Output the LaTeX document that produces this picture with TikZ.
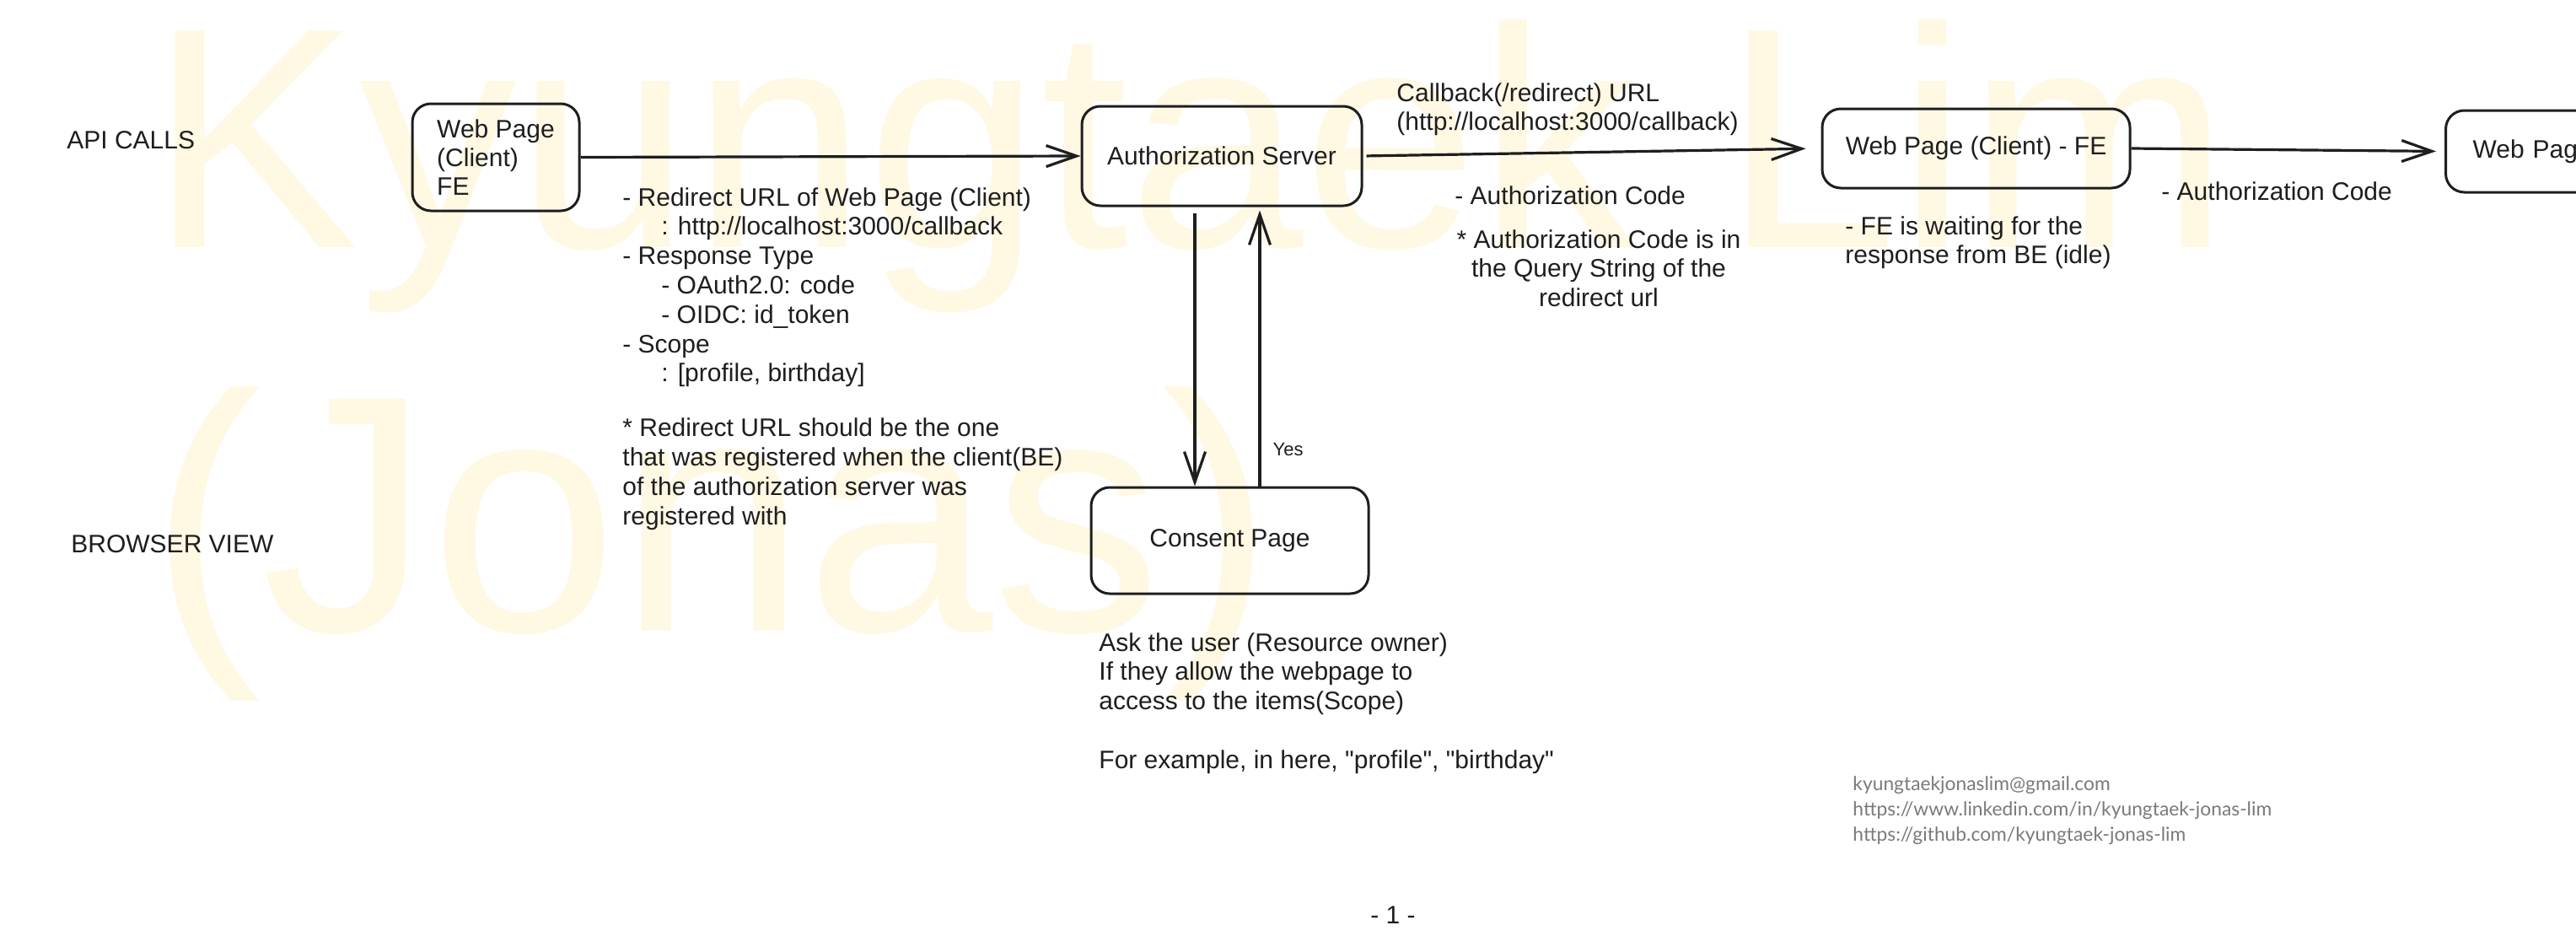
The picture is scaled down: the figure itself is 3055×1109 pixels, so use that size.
\documentclass[tikz,border=0pt]{standalone}
\usepackage{fontspec}
\setmainfont{Liberation Sans}[Ligatures=TeXOff]
\newfontfamily\contactfont{Lato}
\usepackage{tikz}
\usetikzlibrary{arrows.meta}
\definecolor{ink}{HTML}{1E1E1E}
\definecolor{wmyellow}{RGB}{255,248,227}
\definecolor{contactgray}{HTML}{7A7A7A}
\tikzset{pagebox/.style={draw=ink, line width=1.5pt, rounded corners=11pt, inner sep=0pt, align=left, text=ink, font=\fontsize{15}{17}\selectfont}}
\tikzset{note/.style={inner sep=0pt, align=left, text=ink, font=\fontsize{15}{17.4}\selectfont}}
\tikzset{flowarrow/.style={draw=ink, line width=1.6pt, -{Straight Barb[length=18pt,width=12.5pt]}}}

\begin{document}
\begin{tikzpicture}[x=0.5pt,y=-0.5pt]
    \useasboundingbox (0,0) rectangle (3055,1109);
    \clip (0,0) rectangle (3055,1109);
    \fill[white] (0,0) rectangle (3055,1109);
    \node[inner sep=0pt, anchor=north west, align=left, text=wmyellow, font=\fontsize{186.5}{227.5}\selectfont] (wm) at (177,23) {Kyungtaek Lim\\{\fontsize{200}{227.5}\selectfont (Jonas)}};

    \foreach \x/\y/\w/\h/\lab/\tx in {
      588/186.5/99pt/63.5pt/webfe/{Web Page\\(Client)\\FE},
      1449/185/166pt/59pt/authsrv/Authorization Server,
      2343.5/176/182.5pt/47pt/webcb/Web Page (Client) - FE,
      1458.5/641/164.5pt/63pt/consent/Consent Page%
    } {
      \node[pagebox, minimum width=\w, minimum height=\h] (\lab) at (\x, \y) {\tx};
    }
    \node[pagebox, anchor=west, minimum height=48.5pt, inner xsep=16pt, text width=150pt] (webbe) at (2899,179.5) {Web Page};

    \draw[flowarrow] (webfe.east) -- (authsrv.west);
    \draw[flowarrow, shorten >=9pt, shorten <=2pt] (authsrv.east) -- (webcb.west);
    \draw[flowarrow, shorten >=5pt] (webcb.east) -- (webbe.west);
    \draw[flowarrow, shorten <=3.5pt] ([xshift=-16pt]authsrv.south) -- ([xshift=-16pt]authsrv.south |- consent.north);
    \draw[flowarrow, shorten >=2pt] ([xshift=22.5pt]authsrv.south |- consent.north) -- ([xshift=22.5pt]authsrv.south)
      node[pos=0.13, anchor=west, xshift=7pt, inner sep=0pt, text=ink, font=\fontsize{11}{13}\selectfont] (yes) {Yes};

    \node[note, anchor=west] (apicalls) at (79,166) {API CALLS};
    \node[note, anchor=west] (browserview) at (84,645) {BROWSER VIEW};
    \node[note, anchor=north west] (reqnote) at (738,222) {- Redirect URL of Web Page (Client)\\\hspace*{23pt}: http://localhost:3000/callback\\- Response Type\\\hspace*{23pt}- OAuth2.0: code\\\hspace*{23pt}- OIDC: id\_token\\- Scope\\\hspace*{23pt}: [profile, birthday]\\[15pt]* Redirect URL should be the one\\that was registered when the client(BE)\\of the authorization server was\\registered with};
    \node[note, anchor=north west] (cbnote) at (1656,98) {Callback(/redirect) URL\\(http://localhost:3000/callback)};
    \node[note, anchor=west] (codenote) at (1725,232) {- Authorization Code};
    \node[note, align=center, anchor=north] (querynote) at (1896,272) {* Authorization Code is in\\the Query String of the\\redirect url};
    \node[note, anchor=north west] (waitnote) at (2188,256) {- FE is waiting for the\\response from BE (idle)};
    \node[note, anchor=west] (codenote2) at (2563,227) {- Authorization Code};
    \node[note, anchor=north west] (asknote) at (1303,750) {Ask the user (Resource owner)\\If they allow the webpage to\\access to the items(Scope)\\[17.5pt]For example, in here, "profile", "birthday"};
    \node[inner sep=0pt, anchor=north west, align=left, text=contactgray, font=\contactfont\fontsize{11.4}{15}\selectfont] (contact) at (2197,920) {kyungtaekjonaslim@gmail.com\\https://www.linkedin.com/in/kyungtaek-jonas-lim\\https://github.com/kyungtaek-jonas-lim};
    \node[note] (pagenum) at (1652,1085) {- 1 -};
\end{tikzpicture}
\end{document}
